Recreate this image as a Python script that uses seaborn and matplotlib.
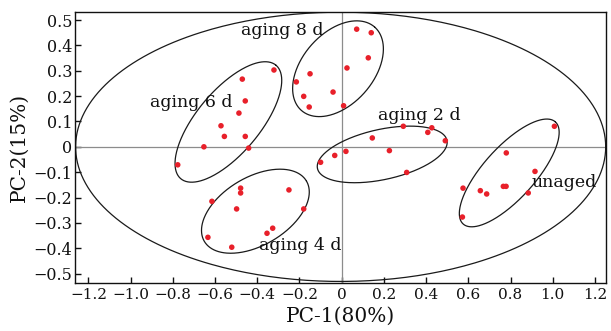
import numpy as np
import pandas as pd
import matplotlib
matplotlib.use("Agg")
import matplotlib.pyplot as plt
import seaborn as sns
from matplotlib.ticker import FuncFormatter

# ---- data (PC scores) ----
pc1_aging6 = [-0.321, -0.471, -0.457, -0.487, -0.572, -0.556, -0.457, -0.653, -0.441, -0.777]
pc2_aging6 = [0.303, 0.267, 0.181, 0.133, 0.083, 0.041, 0.041, 0.000, -0.005, -0.071]
pc1_aging8 = [-0.215, -0.150, -0.180, -0.154, -0.041, 0.071, 0.140, 0.126, 0.025, 0.009]
pc2_aging8 = [0.256, 0.288, 0.199, 0.157, 0.216, 0.464, 0.450, 0.351, 0.311, 0.162]
pc1_aging2 = [0.292, 0.427, 0.408, 0.145, 0.491, 0.226, 0.020, -0.033, -0.100, 0.308]
pc2_aging2 = [0.081, 0.075, 0.057, 0.035, 0.024, -0.015, -0.018, -0.034, -0.061, -0.101]
pc1_unaged = [1.008, 0.780, 0.916, 0.575, 0.657, 0.687, 0.766, 0.779, 0.884, 0.572]
pc2_unaged = [0.081, -0.024, -0.097, -0.163, -0.173, -0.186, -0.156, -0.156, -0.182, -0.277]
pc1_aging4 = [-0.479, -0.479, -0.250, -0.615, -0.498, -0.180, -0.327, -0.354, -0.634, -0.521]
pc2_aging4 = [-0.163, -0.182, -0.170, -0.215, -0.245, -0.245, -0.321, -0.341, -0.357, -0.396]

group_names = ["aging 6 d", "aging 8 d", "aging 2 d", "unaged", "aging 4 d"]
label_x = [-0.715, -0.281, 0.370, 1.053, -0.198]
label_y = [0.175, 0.459, 0.125, -0.141, -0.391]

# ellipse params: centre (data), semi-axes (in x-data units, visual), angle (deg, visual)
ell_cx = [-0.537, -0.0175, 0.192, 0.794, -0.409, -0.005]
ell_cy = [0.098, 0.308, -0.030, -0.103, -0.254, 0.0]
ell_a = [0.351, 0.263, 0.314, 0.326, 0.281, 1.256]
ell_b = [0.149, 0.169, 0.119, 0.122, 0.161, 0.638]
ell_ang = [50.0, 48.7, 12.3, 47.9, 30.6, 0.0]

x_ticks = [-1.2, -1.0, -0.8, -0.6, -0.4, -0.2, 0, 0.2, 0.4, 0.6, 0.8, 1.0, 1.2]
y_ticks = [-0.5, -0.4, -0.3, -0.2, -0.1, 0, 0.1, 0.2, 0.3, 0.4, 0.5]

sns.set_theme(style="white")
plt.rcParams["font.family"] = ["DejaVu Serif"]
plt.rcParams["mathtext.fontset"] = "dejavuserif"

df = pd.DataFrame({
    "PC1": pc1_aging6 + pc1_aging8 + pc1_aging2 + pc1_unaged + pc1_aging4,
    "PC2": pc2_aging6 + pc2_aging8 + pc2_aging2 + pc2_unaged + pc2_aging4,
})

fig = plt.figure(figsize=(6.11, 3.31), dpi=100)
ax = fig.add_axes([0.1227, 0.1459, 0.9913 - 0.1227, 0.9647 - 0.1459])
xlim = (-1.264, 1.251)
ylim = (-0.536, 0.533)
ax.set_xlim(*xlim)
ax.set_ylim(*ylim)

ax.axhline(0, color="#8c8c8c", lw=0.9, zorder=1)
ax.axvline(0, color="#8c8c8c", lw=0.9, zorder=1)

# aspect ratio between y and x in pixels
bbox = ax.get_window_extent()
k = (bbox.height / (ylim[1] - ylim[0])) / (bbox.width / (xlim[1] - xlim[0]))

t = np.linspace(0, 2 * np.pi, 400)
for cx, cy, a, b, ang in zip(ell_cx, ell_cy, ell_a, ell_b, ell_ang):
    th = np.deg2rad(ang)
    u = a * np.cos(t) * np.cos(th) - b * np.sin(t) * np.sin(th)
    v = a * np.cos(t) * np.sin(th) + b * np.sin(t) * np.cos(th)
    ax.plot(cx + u, cy + v / k, color="#1a1a1a", lw=0.9, zorder=2)

sns.scatterplot(data=df, x="PC1", y="PC2", ax=ax, color="#e8202a", s=16,
                edgecolor="none", zorder=3)

for name, lx, ly in zip(group_names, label_x, label_y):
    ax.text(lx, ly, name, fontsize=12.5, ha="center", va="center", color="#111111", zorder=4)

fmt = FuncFormatter(lambda val, pos: "0" if abs(val) < 1e-9 else f"{val:.1f}".replace("-", "\u2212"))
ax.set_xticks(x_ticks)
ax.set_yticks(y_ticks)
ax.xaxis.set_major_formatter(fmt)
ax.yaxis.set_major_formatter(fmt)
ax.tick_params(axis="both", direction="in", length=4, width=1, labelsize=11.5,
               colors="#111111", pad=3)
ax.tick_params(axis="x", bottom=True, top=False, pad=4, labelsize=11)
ax.tick_params(axis="y", left=True, right=False, pad=2)

for sp in ax.spines.values():
    sp.set_color("#111111")
    sp.set_linewidth(1.0)

ax.set_xlabel("PC-1(80%)", fontsize=14.5, labelpad=3, color="#111111")
ax.set_ylabel("PC-2(15%)", fontsize=14.5, labelpad=3, color="#111111")

fig.savefig("out.png", dpi=100)
